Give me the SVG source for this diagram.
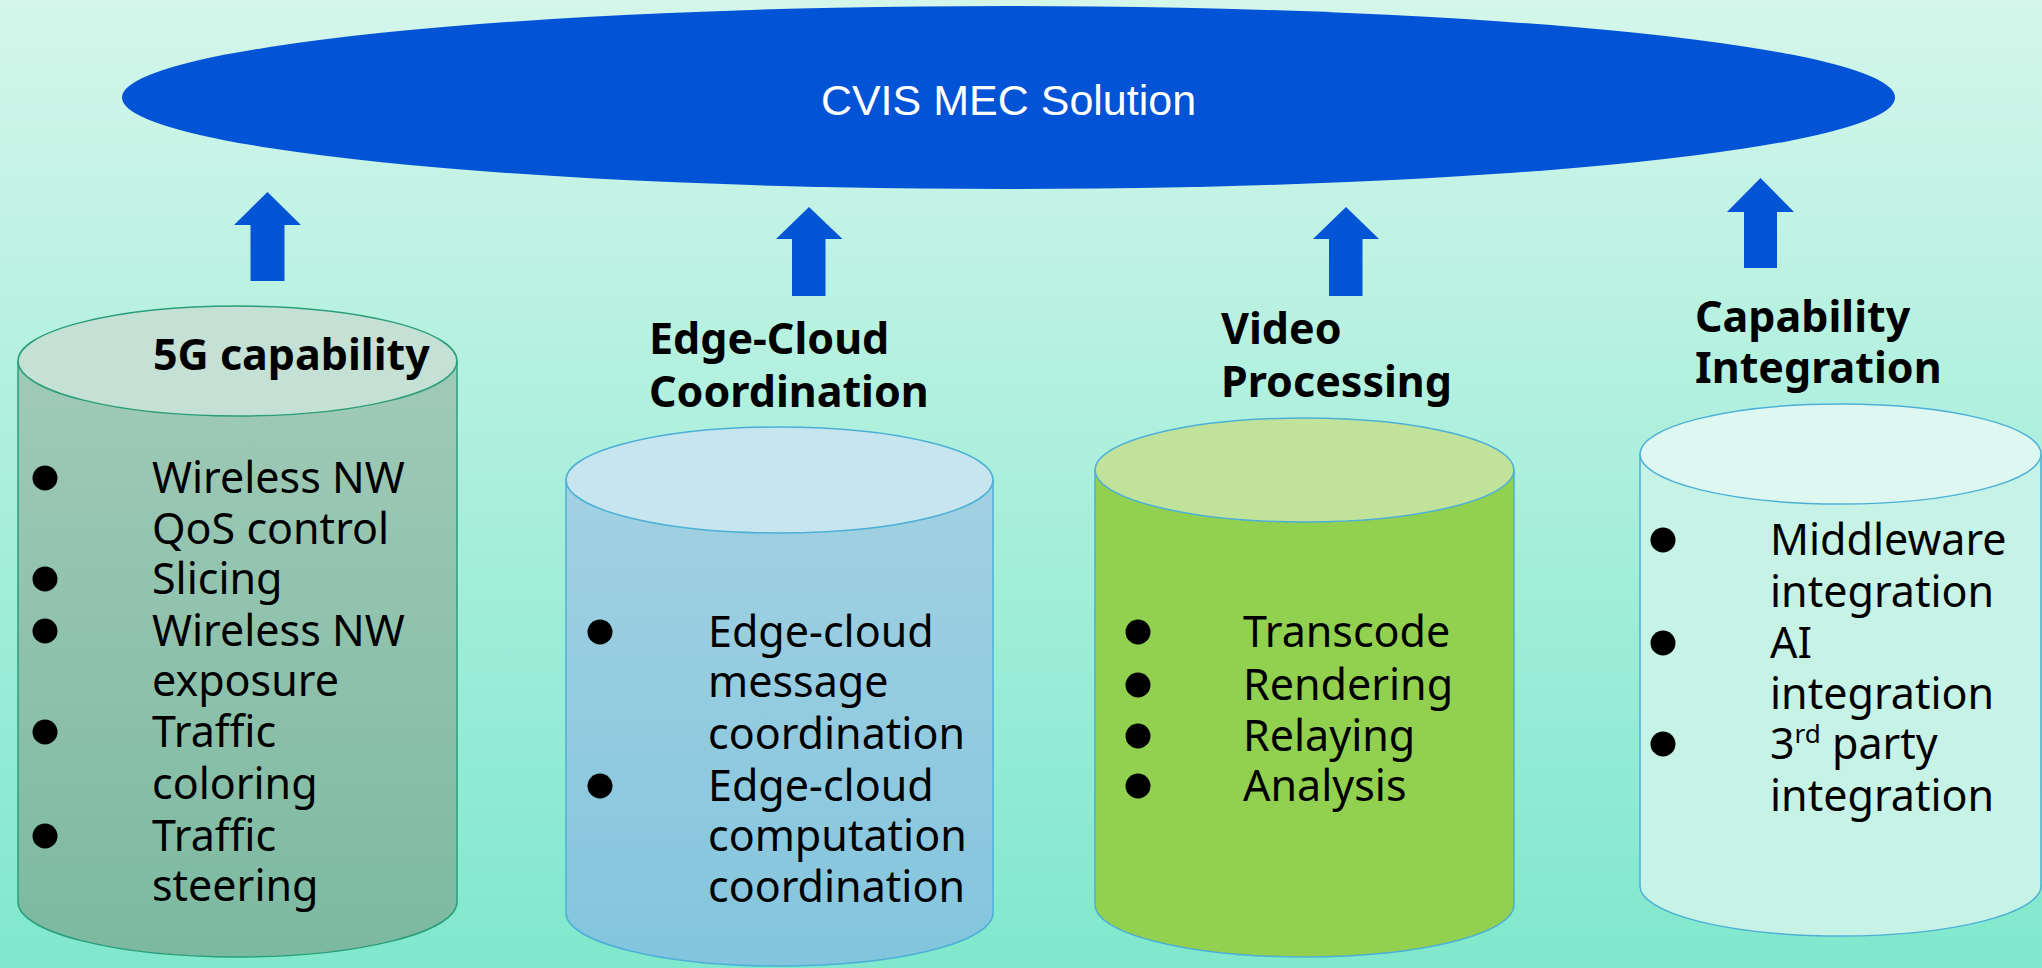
<svg xmlns="http://www.w3.org/2000/svg" width="2042" height="968" viewBox="0 0 2042 968">
  <defs>
    <linearGradient id="bg" x1="0" y1="0" x2="0" y2="1">
      <stop offset="0" stop-color="#d4f6eb"/>
      <stop offset="1" stop-color="#80e8cc"/>
    </linearGradient>
    <linearGradient id="g5g" x1="0" y1="0" x2="0" y2="1">
      <stop offset="0" stop-color="#a0cab8"/>
      <stop offset="1" stop-color="#7cb9a1"/>
    </linearGradient>
    <linearGradient id="gedge" x1="0" y1="0" x2="0" y2="1">
      <stop offset="0" stop-color="#a2d1e2"/>
      <stop offset="1" stop-color="#83c5de"/>
    </linearGradient>
    <style>
      .body { stroke-width: 1.5; }
      .t5g { stroke: #2a9e7a; }
      .tblue { stroke: #4cb0d6; }
      .title { font-family: "Noto Sans", "Open Sans", sans-serif; font-weight: bold; font-size: 43px; fill: #000; }
      .item { font-family: "Noto Sans", "Open Sans", sans-serif; font-size: 43px; fill: #000; }
      .dot { fill: #000; }
      .arrow { fill: #0455d6; }
    </style>
  </defs>

  <rect x="0" y="0" width="2042" height="968" fill="url(#bg)"/>

  <!-- top ellipse: solution -->
  <g id="solution">
    <ellipse cx="1008.5" cy="97.5" rx="886.5" ry="91.5" fill="#0353d6"/>
    <text x="1008.5" y="115" text-anchor="middle" font-family="'Liberation Sans', Arial, sans-serif" font-size="43" fill="#fff">CVIS MEC Solution</text>
  </g>

  <!-- upward block arrows -->
  <g id="connectors">
    <polygon class="arrow" points="267.5,192 301,225 284.5,225 284.5,281 250.5,281 250.5,225 234,225"/>
    <polygon class="arrow" points="809,207 842.5,239 825.5,239 825.5,296 792,296 792,239 776,239"/>
    <polygon class="arrow" points="1346,207 1379,239 1362.5,239 1362.5,296 1329,296 1329,239 1313,239"/>
    <polygon class="arrow" points="1760.5,178 1794,212 1777,212 1777,268 1744,268 1744,212 1727,212"/>
  </g>

  <!-- 5G capability -->
  <g id="cyl-5g">
    <path class="body t5g" fill="url(#g5g)" d="M18,361 L18,902 A219.5,55 0 0 0 457,902 L457,361 Z"/>
    <ellipse class="body t5g" cx="237.5" cy="361" rx="219.5" ry="55" fill="#c5e0d4"/>
    <text class="title" x="153" y="370">5G capability</text>
    <circle class="dot" cx="45" cy="478" r="12.5"/>
    <text class="item" x="152" y="493">Wireless NW</text>
    <text class="item" x="152" y="544">QoS control</text>
    <circle class="dot" cx="45" cy="579" r="12.5"/>
    <text class="item" x="152" y="594">Slicing</text>
    <circle class="dot" cx="45" cy="631" r="12.5"/>
    <text class="item" x="152" y="646">Wireless NW</text>
    <text class="item" x="152" y="696">exposure</text>
    <circle class="dot" cx="45" cy="732" r="12.5"/>
    <text class="item" x="152" y="747">Traffic</text>
    <text class="item" x="152" y="799">coloring</text>
    <circle class="dot" cx="45" cy="836" r="12.5"/>
    <text class="item" x="152" y="851">Traffic</text>
    <text class="item" x="152" y="901">steering</text>
  </g>

  <!-- Edge-Cloud Coordination -->
  <g id="cyl-edge">
    <path class="body tblue" fill="url(#gedge)" d="M566,480 L566,913 A213.5,53 0 0 0 993,913 L993,480 Z"/>
    <ellipse class="body tblue" cx="779.5" cy="480" rx="213.5" ry="53" fill="#c7e5ee"/>
    <text class="title" x="649" y="354">Edge-Cloud</text>
    <text class="title" x="649" y="407">Coordination</text>
    <circle class="dot" cx="600" cy="632" r="12.5"/>
    <text class="item" x="708" y="647">Edge-cloud</text>
    <text class="item" x="708" y="697">message</text>
    <text class="item" x="708" y="749">coordination</text>
    <circle class="dot" cx="600" cy="786" r="12.5"/>
    <text class="item" x="708" y="801">Edge-cloud</text>
    <text class="item" x="708" y="851">computation</text>
    <text class="item" x="708" y="902">coordination</text>
  </g>

  <!-- Video Processing -->
  <g id="cyl-video">
    <path class="body tblue" fill="#92d050" d="M1095,470 L1095,905 A209.5,52 0 0 0 1514,905 L1514,470 Z"/>
    <ellipse class="body tblue" cx="1304.5" cy="470" rx="209.5" ry="52" fill="#c0e29b"/>
    <text class="title" x="1221" y="344">Video</text>
    <text class="title" x="1221" y="397">Processing</text>
    <circle class="dot" cx="1138" cy="632" r="12.5"/>
    <text class="item" x="1243" y="647">Transcode</text>
    <circle class="dot" cx="1138" cy="685" r="12.5"/>
    <text class="item" x="1243" y="700">Rendering</text>
    <circle class="dot" cx="1138" cy="736" r="12.5"/>
    <text class="item" x="1243" y="751">Relaying</text>
    <circle class="dot" cx="1138" cy="786" r="12.5"/>
    <text class="item" x="1243" y="801">Analysis</text>
  </g>

  <!-- Capability Integration -->
  <g id="cyl-integration">
    <path class="body tblue" fill="#c7f3e6" d="M1640,454 L1640,886 A200.5,50 0 0 0 2041,886 L2041,454 Z"/>
    <ellipse class="body tblue" cx="1840.5" cy="454" rx="200.5" ry="50" fill="#def8f1"/>
    <text class="title" x="1695" y="332">Capability</text>
    <text class="title" x="1695" y="383">Integration</text>
    <circle class="dot" cx="1663" cy="540" r="12.5"/>
    <text class="item" x="1770" y="555">Middleware</text>
    <text class="item" x="1770" y="607">integration</text>
    <circle class="dot" cx="1663" cy="643" r="12.5"/>
    <text class="item" x="1770" y="658">AI</text>
    <text class="item" x="1770" y="709">integration</text>
    <circle class="dot" cx="1663" cy="744" r="12.5"/>
    <text class="item" x="1770" y="759">3<tspan font-size="26" dy="-16">rd</tspan><tspan dy="16"> party</tspan></text>
    <text class="item" x="1770" y="811">integration</text>
  </g>
</svg>
